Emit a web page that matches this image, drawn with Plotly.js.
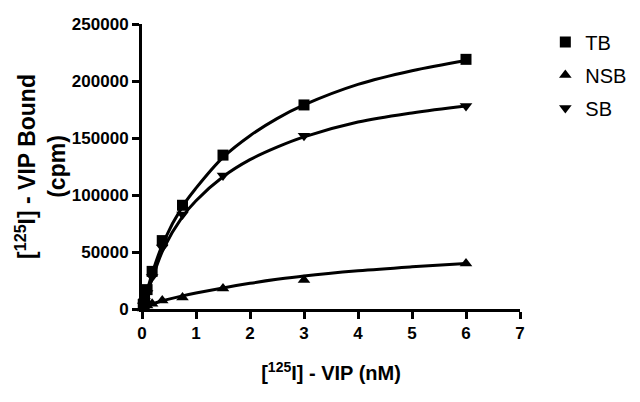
<!DOCTYPE html>
<html>
<head>
<meta charset="utf-8">
<script src="https://cdn.plot.ly/plotly-3.0.1.min.js"></script>
<style>
  html, body { margin: 0; padding: 0; background: #fff; }
  #chart { width: 640px; height: 402px; }
</style>
</head>
<body>
<div id="chart"></div>
<script>
// measured points, [125I]-VIP concentration (nM)
const conc = [0.023, 0.047, 0.094, 0.1875, 0.375, 0.75, 1.5, 3, 6];
const tb  = [4000, 9000, 17000, 33000, 60000, 91000, 135000, 179000, 219000];
const nsb = [500, 1500, 3000, 4500, 7500, 10000, 18000, 25500, 40000];
const sb  = [3000, 7000, 14000, 28000, 54000, 83000, 117000, 152000, 178000];

// fitted curves
const fitX   = [0, 0.1, 0.2, 0.4, 0.75, 1, 1.5, 2, 2.5, 3, 4, 5, 6];
const tbFit  = [0, 17000, 33000, 59000, 90000, 106000, 133000, 152000, 167000, 179000, 197000, 209000, 218000];
const sbFit  = [0, 14000, 28000, 53000, 81000, 95000, 116000, 131000, 142000, 151000, 164000, 172000, 178000];
const nsbFit = [0, 2000, 4500, 7500, 11500, 14000, 18500, 22500, 26000, 29000, 33500, 37000, 40000];

const xTicks = [0, 1, 2, 3, 4, 5, 6, 7];
const yTicks = [0, 50000, 100000, 150000, 200000, 250000];

const font = 'Liberation Sans, Arial, sans-serif';

function curve(y) {
  return {
    x: fitX, y: y, mode: 'lines', type: 'scatter',
    line: { color: '#000', width: 3, shape: 'spline', smoothing: 1 },
    showlegend: false, hoverinfo: 'skip', cliponaxis: false
  };
}

function points(y, name, symbol) {
  return {
    x: conc, y: y, name: name, mode: 'markers', type: 'scatter',
    legendgroup: name,
    marker: { color: '#000', size: 11, symbol: symbol },
    cliponaxis: false
  };
}

const data = [
  curve(tbFit), curve(nsbFit), curve(sbFit),
  points(tb, 'TB', 'square'),
  points(nsb, 'NSB', 'triangle-up'),
  points(sb, 'SB', 'triangle-down')
];

const layout = {
  width: 640,
  height: 402,
  margin: { l: 142, r: 120, t: 24, b: 93, autoexpand: false },
  paper_bgcolor: '#fff',
  plot_bgcolor: '#fff',
  font: { family: font, color: '#000' },
  showlegend: true,
  legend: {
    x: 1.067, xanchor: 'left',
    y: 1.005, yanchor: 'top',
    font: { size: 20, family: font },
    tracegroupgap: 4,
    bgcolor: 'rgba(0,0,0,0)'
  },
  xaxis: {
    range: [0, 7],
    tickvals: xTicks,
    ticktext: xTicks.map(String),
    ticks: 'outside', ticklen: 7, tickwidth: 3, tickcolor: '#000',
    showline: true, linewidth: 3, linecolor: '#000',
    showgrid: false, zeroline: false,
    tickfont: { size: 17, family: font, weight: 'bold' },
    title: {
      text: '[<sup>125</sup>I] - VIP (nM)',
      font: { size: 20, family: font, weight: 'bold' },
      standoff: 24
    }
  },
  yaxis: {
    range: [0, 250000],
    tickvals: yTicks,
    tickformat: 'd',
    ticks: 'outside', ticklen: 7, tickwidth: 3, tickcolor: '#000',
    showline: true, linewidth: 3, linecolor: '#000',
    showgrid: false, zeroline: false,
    tickfont: { size: 17, family: font, weight: 'bold' },
    title: {
      text: '[<sup>125</sup>I] - VIP Bound<br>(cpm)',
      font: { size: 23, family: font, weight: 'bold' },
      standoff: 0
    }
  }
};

Plotly.newPlot('chart', data, layout, { staticPlot: true });
</script>
</body>
</html>
